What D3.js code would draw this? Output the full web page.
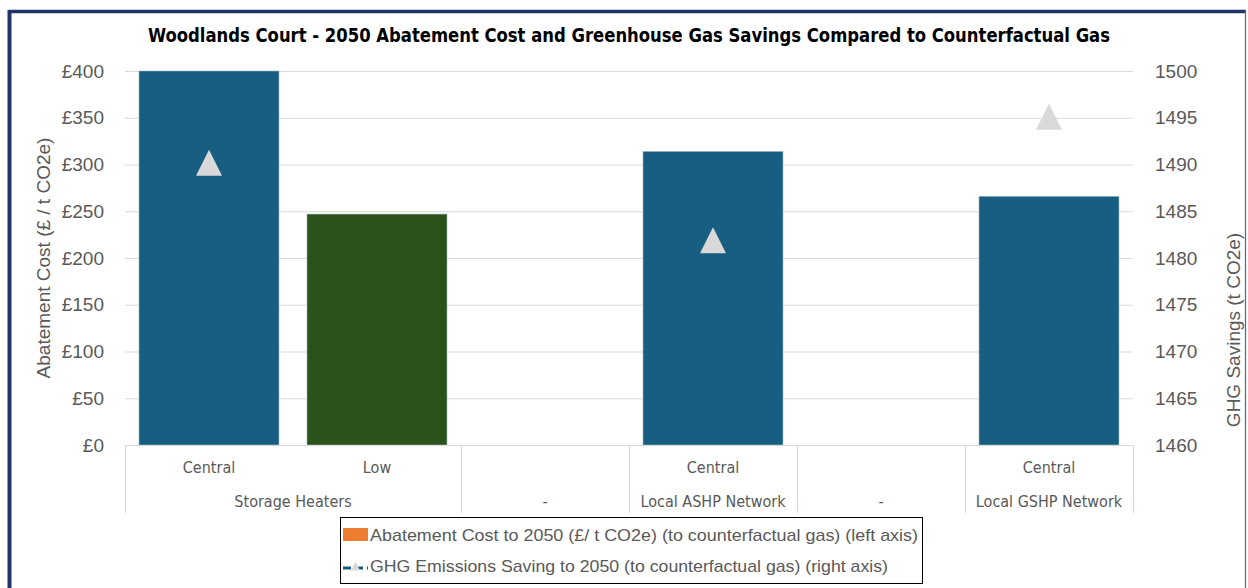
<!DOCTYPE html>
<html>
<head>
<meta charset="utf-8">
<script src="https://cdn.jsdelivr.net/npm/d3@7"></script>
<style>
  body { margin: 0; background: #fff; }
  svg { display: block; }
</style>
</head>
<body>
<svg id="chart" width="1248" height="588"></svg>
<script>
// ---- data ----
const categories = ["Central", "Low", "", "Central", "", "Central"];
const groups = ["Storage Heaters", "-", "Local ASHP Network", "-", "Local GSHP Network"];
const groupSpans = [2, 1, 1, 1, 1];
const abatementCost = [400, 247, null, 314, null, 266];
const ghgSavings = [1490.2, null, null, 1481.9, null, 1495.1];
const barColors = ["#175E80", "#2A5219", "#175E80", "#175E80", "#175E80", "#175E80"];
const leftTicks = [0, 50, 100, 150, 200, 250, 300, 350, 400];
const rightTicks = [1460, 1465, 1470, 1475, 1480, 1485, 1490, 1495, 1500];
const titleText = "Woodlands Court - 2050 Abatement Cost and Greenhouse Gas Savings Compared to Counterfactual Gas";
const legendItems = [
  "Abatement Cost to 2050 (£/ t CO2e) (to counterfactual gas) (left axis)",
  "GHG Emissions Saving to 2050 (to counterfactual gas) (right axis)"
];

// ---- layout ----
const svg = d3.select("#chart");
const plot = { left: 125, right: 1133, top: 71, bottom: 445 };
const narrow = "'Liberation Sans Narrow', 'DejaVu Sans Condensed', 'Roboto', sans-serif";
const sans = "'Liberation Sans', Arial, sans-serif";
const grey = "#595959";

// outer frame
svg.append("rect").attr("x", 0).attr("y", 0).attr("width", 1248).attr("height", 588).attr("fill", "#fff");
svg.append("line").attr("x1", 9).attr("x2", 1246).attr("y1", 11.5).attr("y2", 11.5)
  .attr("stroke", "#1F3369").attr("stroke-width", 3.5);
svg.append("line").attr("x1", 9.5).attr("x2", 9.5).attr("y1", 10).attr("y2", 588)
  .attr("stroke", "#1F3369").attr("stroke-width", 4);
svg.append("line").attr("x1", 1245.5).attr("x2", 1245.5).attr("y1", 10).attr("y2", 588)
  .attr("stroke", "#5A6386").attr("stroke-width", 1.2);

const idx = categories.map((_, i) => i);
const x = d3.scaleBand().domain(idx).range([plot.left, plot.right]).paddingInner(1/6).paddingOuter(1/12);
const yL = d3.scaleLinear().domain([0, 400]).range([plot.bottom, plot.top]);
const yR = d3.scaleLinear().domain([1460, 1500]).range([plot.bottom, plot.top]);

// gridlines
svg.append("g").selectAll("line").data(leftTicks.filter(d => d > 0)).join("line")
  .attr("x1", plot.left).attr("x2", plot.right)
  .attr("y1", d => yL(d) + 0.5).attr("y2", d => yL(d) + 0.5)
  .attr("stroke", "#D9D9D9").attr("stroke-width", 1.2);

// left axis
const axL = svg.append("g").attr("transform", `translate(${plot.left},0)`)
  .call(d3.axisLeft(yL).tickValues(leftTicks).tickSize(0).tickPadding(21).tickFormat(d => "£" + d));
axL.select(".domain").remove();
axL.selectAll("text").attr("font-family", sans).attr("font-size", 19).attr("fill", grey);

// right axis
const axR = svg.append("g").attr("transform", `translate(${plot.right},0)`)
  .call(d3.axisRight(yR).tickValues(rightTicks).tickSize(0).tickPadding(22).tickFormat(d3.format("d")));
axR.select(".domain").remove();
axR.selectAll("text").attr("font-family", sans).attr("font-size", 19).attr("fill", grey);

// axis titles
svg.append("text").attr("transform", "translate(50,258) rotate(-90)")
  .attr("text-anchor", "middle").attr("font-family", sans).attr("font-size", 19).attr("fill", grey)
  .text("Abatement Cost (£ / t CO2e)");
svg.append("text").attr("transform", "translate(1240,330) rotate(-90)")
  .attr("text-anchor", "middle").attr("font-family", sans).attr("font-size", 19).attr("fill", grey)
  .text("GHG Savings (t CO2e)");

// bars
svg.append("g").selectAll("rect").data(idx.filter(i => abatementCost[i] != null)).join("rect")
  .attr("x", i => x(i)).attr("width", x.bandwidth())
  .attr("y", i => yL(Math.min(abatementCost[i], 400)))
  .attr("height", i => yL(0) - yL(Math.min(abatementCost[i], 400)))
  .attr("fill", i => barColors[i])
  .attr("stroke", "#9DB8C8").attr("stroke-width", 0.6);

// category axis line and separators
const catG = svg.append("g");
catG.append("line").attr("x1", plot.left).attr("x2", plot.right)
  .attr("y1", plot.bottom + 0.5).attr("y2", plot.bottom + 0.5)
  .attr("stroke", "#D9D9D9").attr("stroke-width", 1.2);
const step = (plot.right - plot.left) / categories.length;
let acc = 0;
const bounds = [0];
groupSpans.forEach(s => { acc += s; bounds.push(acc); });
catG.selectAll("line.sep").data(bounds).join("line").attr("class", "sep")
  .attr("x1", b => plot.left + b * step + 0.5).attr("x2", b => plot.left + b * step + 0.5)
  .attr("y1", plot.bottom).attr("y2", 513)
  .attr("stroke", "#D9D9D9").attr("stroke-width", 1.2);

// category labels
catG.selectAll("text.cat").data(idx).join("text").attr("class", "cat")
  .attr("x", i => x(i) + x.bandwidth() / 2).attr("y", 473)
  .attr("text-anchor", "middle").attr("font-family", narrow).attr("font-size", 16).attr("fill", grey)
  .text(i => categories[i]);
// group labels
catG.selectAll("text.grp").data(groups).join("text").attr("class", "grp")
  .attr("x", (g, j) => plot.left + (bounds[j] + bounds[j + 1]) / 2 * step).attr("y", 507)
  .attr("text-anchor", "middle").attr("font-family", narrow).attr("font-size", 16).attr("fill", grey)
  .text(g => g);

// triangles
const tri = (cx, cy, w) => {
  const h = w;
  return `M${cx},${cy - h / 2}L${cx + w / 2},${cy + h / 2}L${cx - w / 2},${cy + h / 2}Z`;
};
svg.append("g").selectAll("path").data(idx.filter(i => ghgSavings[i] != null)).join("path")
  .attr("d", i => tri(x(i) + x.bandwidth() / 2, yR(ghgSavings[i]), 26))
  .attr("fill", "#D9D9D9");

// title
svg.append("text").attr("x", 629).attr("y", 42).attr("text-anchor", "middle")
  .attr("font-family", narrow).attr("font-weight", "bold").attr("font-size", 20).attr("fill", "#000")
  .attr("textLength", 962).attr("lengthAdjust", "spacingAndGlyphs")
  .text(titleText);

// legend
const lg = svg.append("g");
lg.append("rect").attr("x", 340.5).attr("y", 517.5).attr("width", 582).attr("height", 66)
  .attr("fill", "#fff").attr("stroke", "#000").attr("stroke-width", 1);
lg.append("rect").attr("x", 343).attr("y", 528).attr("width", 25).attr("height", 13).attr("fill", "#ED7D31");
lg.append("line").attr("x1", 343).attr("x2", 368).attr("y1", 568).attr("y2", 568)
  .attr("stroke", "#175E80").attr("stroke-width", 3).attr("stroke-dasharray", "8,4");
lg.append("path").attr("d", tri(355.5, 566, 9)).attr("fill", "#D9D9D9");
lg.selectAll("text").data(legendItems).join("text")
  .attr("x", 370).attr("y", (d, i) => 541 + i * 31)
  .attr("font-family", sans).attr("font-size", 17).attr("fill", grey)
  .attr("textLength", (d, i) => i === 0 ? 548 : 518).attr("lengthAdjust", "spacingAndGlyphs")
  .text(d => d);
</script>
</body>
</html>
